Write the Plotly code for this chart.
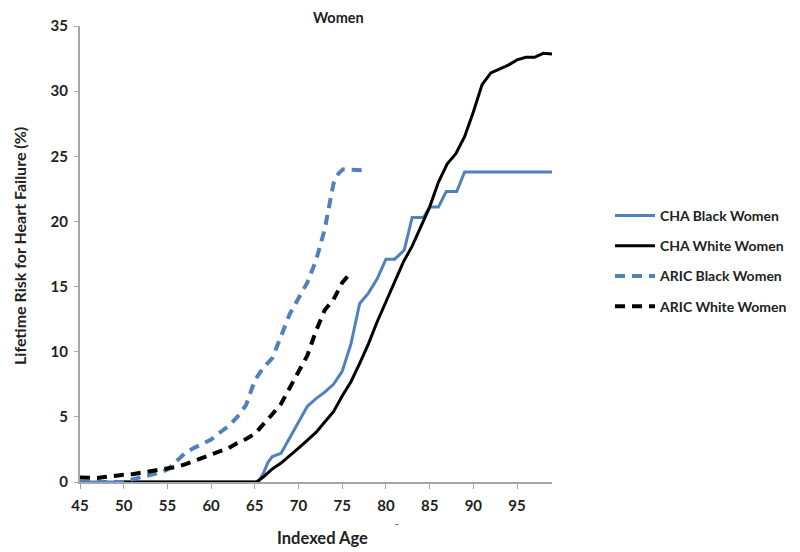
import plotly.graph_objects as go

# ---------------- data ----------------
cha_black_age = [45, 65.4, 66, 66.5, 67, 68, 69, 70, 71, 72, 73, 74, 75, 76, 77, 78, 79, 80, 81, 82.1,
                 83, 84.3, 85, 86, 86.9, 88.1, 89, 99]
cha_black_val = [0, 0, 0.7, 1.5, 1.95, 2.2, 3.4, 4.6, 5.8, 6.4, 6.9, 7.5, 8.5, 10.6, 13.7, 14.5, 15.6, 17.1, 17.1, 17.8,
                 20.3, 20.3, 21.1, 21.1, 22.3, 22.3, 23.8, 23.8]

cha_white_age = [50, 65.2, 66, 67, 68, 69, 70, 71, 72, 73, 74, 75, 76, 77, 78, 79, 80, 81, 82, 83, 84, 85,
                 86, 87, 88, 89, 90, 91, 92, 93, 94, 95, 96, 97, 98, 99]
cha_white_val = [0, 0, 0.4, 1.0, 1.45, 2.0, 2.6, 3.2, 3.8, 4.6, 5.4, 6.6, 7.7, 9.1, 10.6, 12.3, 13.8, 15.3, 16.9, 18.1, 19.6, 21.1,
                 23.0, 24.4, 25.2, 26.5, 28.4, 30.5, 31.4, 31.7, 32.0, 32.4, 32.6, 32.6, 32.9, 32.85]

aric_black_age = [45, 50, 51, 52, 53, 54, 55, 56, 57, 58, 59, 60, 61, 62, 63, 64, 65, 66, 67, 68, 69, 70,
                  71, 72, 73, 74, 74.6, 75.1, 78]
aric_black_val = [0, 0, 0.2, 0.35, 0.5, 0.7, 0.95, 1.6, 2.2, 2.6, 2.9, 3.25, 3.8, 4.3, 5.0, 5.9, 7.8, 8.8, 9.5, 11.2, 12.9, 14.1,
                  15.3, 17.0, 19.4, 22.9, 23.7, 24.0, 23.9]

aric_white_age = [45, 46, 47, 48, 49, 50, 51, 52, 53, 54, 55, 56, 57, 58, 59, 60, 61, 62, 63, 64, 65, 66,
                  67, 68, 69, 70, 71, 72, 73, 74, 75, 76]
aric_white_val = [0.35, 0.35, 0.3, 0.4, 0.5, 0.55, 0.6, 0.7, 0.8, 0.9, 1.0, 1.15, 1.35, 1.6, 1.85, 2.05, 2.3, 2.6, 3.0, 3.3, 3.7, 4.4,
                  5.2, 6.0, 7.2, 8.4, 9.7, 11.6, 13.2, 14.0, 15.3, 16.1]

x_ticks = [45, 50, 55, 60, 65, 70, 75, 80, 85, 90, 95]
y_ticks = [0, 5, 10, 15, 20, 25, 30, 35]

BLUE = "#4F81BD"
BLACK = "#000000"
FONT = "Lato"
TXT = "#222222"

# the page body adds an 8px offset; margins are set so the plot area lands at x 80..552, y 26..482
W, H = 800, 552
OFF = 8
L, R, T, B = 80 - OFF, W - 552 + OFF, 26 - OFF, H - 482 + OFF
PW, PH = W - L - R, H - T - B


def px_to_paper_x(px):
    return (px - OFF - L) / PW


def px_to_paper_y(py):
    return (H - B - (py - OFF)) / PH


fig = go.Figure()
fig.add_trace(go.Scatter(x=cha_black_age, y=cha_black_val, mode="lines", name="CHA Black Women",
                         legendgroup="a", line=dict(color=BLUE, width=3)))
fig.add_trace(go.Scatter(x=cha_white_age, y=cha_white_val, mode="lines", name="CHA White Women",
                         legendgroup="b", line=dict(color=BLACK, width=3)))
fig.add_trace(go.Scatter(x=aric_black_age, y=aric_black_val, mode="lines", name="ARIC Black Women",
                         legendgroup="c", line=dict(color=BLUE, width=4, dash="10px,7px")))
fig.add_trace(go.Scatter(x=aric_white_age, y=aric_white_val, mode="lines", name="ARIC White Women",
                         legendgroup="d", line=dict(color=BLACK, width=4, dash="10px,7px")))

fig.update_layout(
    width=W, height=H,
    margin=dict(l=L, r=R, t=T, b=B, autoexpand=False),
    paper_bgcolor="white", plot_bgcolor="white",
    font=dict(family=FONT, color=TXT, size=15, weight="bold"),
    showlegend=True,
    legend=dict(x=px_to_paper_x(610), xanchor="left", y=px_to_paper_y(200), yanchor="top",
                tracegroupgap=9, itemwidth=40,
                font=dict(family=FONT, size=14, color=TXT, weight="bold"), bgcolor="rgba(0,0,0,0)"),
    xaxis=dict(range=[45, 99], tickvals=x_ticks, ticktext=[str(v) for v in x_ticks], automargin=False,
               showgrid=False, zeroline=False, showline=True, linecolor="#A6A6A6", linewidth=2,
               ticks="outside", ticklen=5, tickcolor="#A6A6A6", tickwidth=1, ticklabelstandoff=4,
               tickfont=dict(family=FONT, size=15, color=TXT, weight="bold")),
    yaxis=dict(range=[0, 35], tickvals=y_ticks, ticktext=[str(v) for v in y_ticks], automargin=False,
               showgrid=False, zeroline=False, showline=True, linecolor="#A6A6A6", linewidth=2,
               ticks="outside", ticklen=4, tickcolor="#A6A6A6", tickwidth=1, ticklabelstandoff=3,
               tickfont=dict(family=FONT, size=15, color=TXT, weight="bold")),
)

# chart title and axis titles placed where the reference shows them
fig.add_annotation(text="Women", xref="paper", yref="paper", x=px_to_paper_x(338), y=px_to_paper_y(18),
                   xanchor="center", yanchor="middle", showarrow=False,
                   font=dict(family=FONT, size=14.5, color=TXT, weight="bold"))
fig.add_annotation(text="Indexed Age", xref="paper", yref="paper", x=px_to_paper_x(322), y=px_to_paper_y(538),
                   xanchor="center", yanchor="middle", showarrow=False,
                   font=dict(family=FONT, size=16.5, color=TXT, weight="bold"))
fig.add_annotation(text="Lifetime Risk for Heart Failure (%)", xref="paper", yref="paper",
                   x=px_to_paper_x(20), y=px_to_paper_y(246), textangle=-90,
                   xanchor="center", yanchor="middle", showarrow=False,
                   font=dict(family=FONT, size=16, color=TXT, weight="bold"))

fig.add_annotation(text="-", xref="paper", yref="paper", x=px_to_paper_x(401), y=px_to_paper_y(531),
                   showarrow=False, font=dict(family=FONT, size=10, color="#666666"))

fig.write_html("out.html")
